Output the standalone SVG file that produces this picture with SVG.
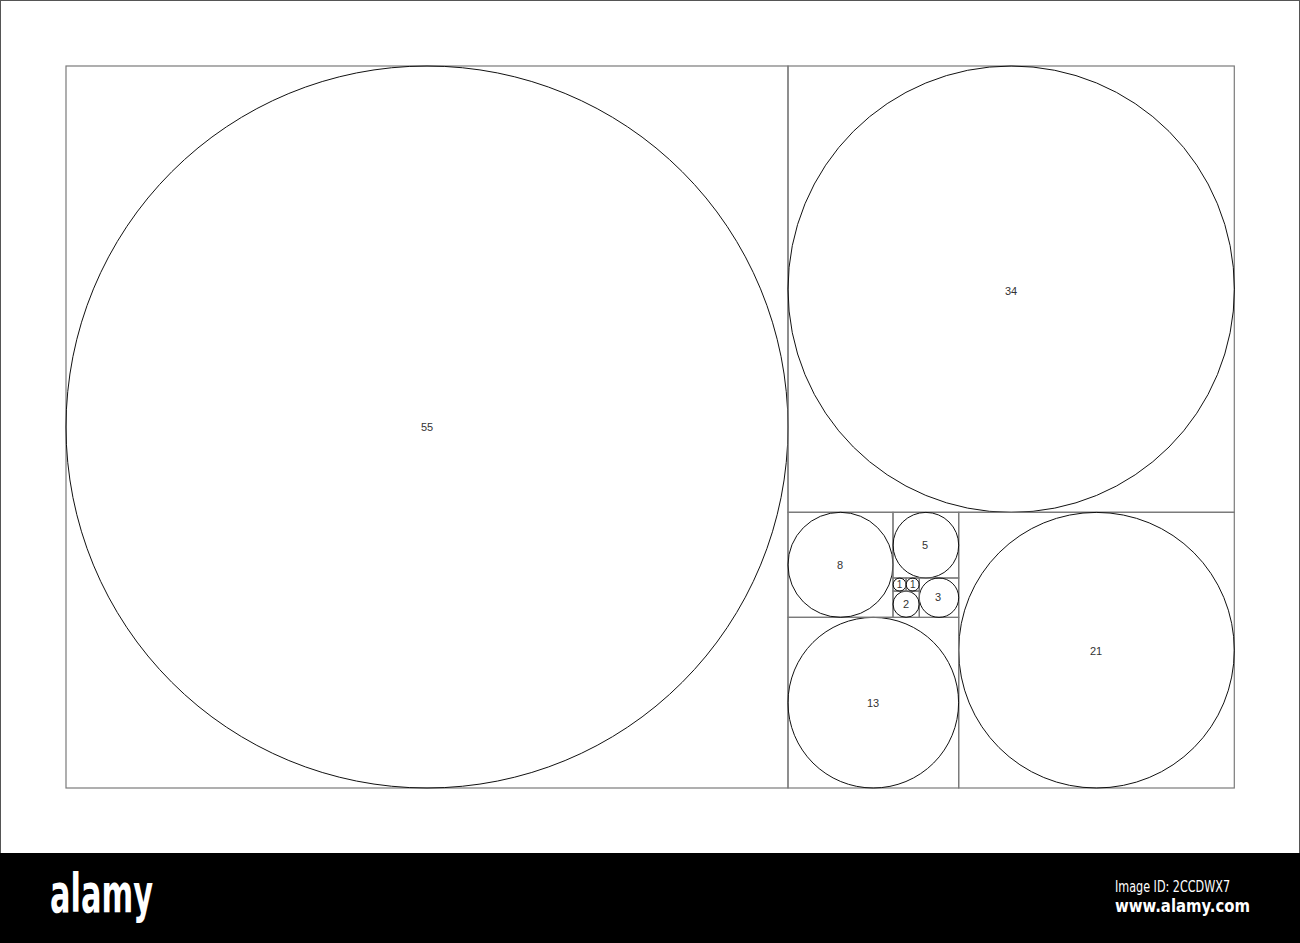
<svg xmlns="http://www.w3.org/2000/svg" width="1300" height="943" viewBox="0 0 1300 943">
<style>
.sq{fill:none;stroke:#7a7a7a;stroke-width:1.2}
.ci{fill:none;stroke:#111;stroke-width:1}
.lb{font-family:"Liberation Sans",Arial,sans-serif;font-size:11px;fill:#333;text-anchor:middle}
.wm{font-family:"DejaVu Sans Condensed","DejaVu Sans",sans-serif;fill:#fff}
</style>
<rect x="0" y="0" width="1300" height="943" fill="#fff"/>
<rect x="0.5" y="0.5" width="1299" height="860" fill="none" stroke="#555" stroke-width="1"/>
<g id="f55">
<rect class="sq" x="66" y="66" width="722" height="722"/>
<circle class="ci" cx="427" cy="427" r="361"/>
<text class="lb" x="427" y="431">55</text>
</g>
<g id="f34">
<rect class="sq" x="788" y="66" width="446.3" height="446.3"/>
<circle class="ci" cx="1011.2" cy="289.2" r="223.2"/>
<text class="lb" x="1011" y="295">34</text>
</g>
<g id="f21">
<rect class="sq" x="958.7" y="512.3" width="275.6" height="275.7"/>
<circle class="ci" cx="1096.5" cy="650.2" r="137.8"/>
<text class="lb" x="1096" y="655">21</text>
</g>
<g id="f13">
<rect class="sq" x="788" y="617.4" width="170.7" height="170.6"/>
<circle class="ci" cx="873.3" cy="702.7" r="85.3"/>
<text class="lb" x="873" y="707">13</text>
</g>
<g id="f8">
<rect class="sq" x="788" y="512.3" width="105" height="105"/>
<circle class="ci" cx="840.5" cy="564.8" r="52.5"/>
<text class="lb" x="840" y="569">8</text>
</g>
<g id="f5">
<rect class="sq" x="893" y="512.3" width="65.7" height="65.7"/>
<circle class="ci" cx="925.9" cy="545.2" r="32.8"/>
<text class="lb" x="925" y="549">5</text>
</g>
<g id="f3">
<rect class="sq" x="919.3" y="578" width="39.4" height="39.4"/>
<circle class="ci" cx="939" cy="597.7" r="19.7"/>
<text class="lb" x="938" y="601">3</text>
</g>
<g id="f2">
<rect class="sq" x="893" y="591.1" width="26.3" height="26.3"/>
<circle class="ci" cx="906.1" cy="604.2" r="13.1"/>
<text class="lb" x="906" y="608">2</text>
</g>
<g id="f1a">
<rect class="sq" x="893" y="578" width="13.1" height="13.1"/>
<circle class="ci" cx="899.6" cy="584.6" r="6.5"/>
<text class="lb" x="899.6" y="588.3" style="font-size:10px">1</text>
</g>
<g id="f1b">
<rect class="sq" x="906.1" y="578" width="13.2" height="13.1"/>
<circle class="ci" cx="912.7" cy="584.6" r="6.5"/>
<text class="lb" x="912.7" y="588.3" style="font-size:10px">1</text>
</g>
<g id="connectors"></g>
<g id="watermark">
<rect x="0" y="853" width="1300" height="90" fill="#000"/>
<text class="wm" x="50" y="912" font-size="54" font-weight="bold" textLength="103" lengthAdjust="spacingAndGlyphs">alamy</text>
<text class="wm" x="1115" y="892" font-size="15" textLength="115" lengthAdjust="spacingAndGlyphs">Image ID: 2CCDWX7</text>
<text class="wm" x="1115" y="912" font-size="17" font-weight="bold" textLength="135" lengthAdjust="spacingAndGlyphs">www.alamy.com</text>
</g>
</svg>
